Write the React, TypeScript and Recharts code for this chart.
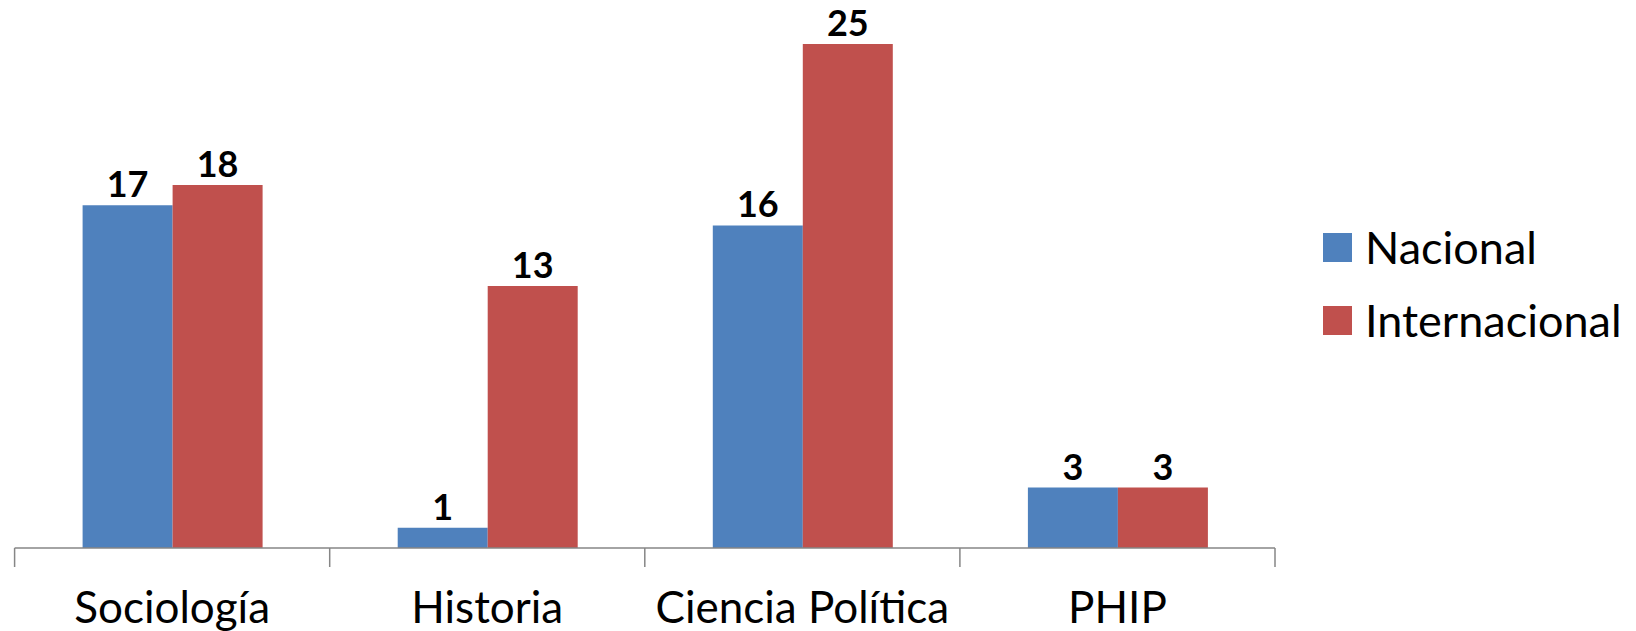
import React from 'react';
import { BarChart, Bar, XAxis, YAxis, LabelList, Legend } from 'recharts';

const categories = ['Sociología', 'Historia', 'Ciencia Política', 'PHIP'];
const nacional = [17, 1, 16, 3];
const internacional = [18, 13, 25, 3];
const seriesNames = ['Nacional', 'Internacional'];

const data = categories.map((c, i) => ({ name: c, nacional: nacional[i], internacional: internacional[i] }));

const W = 1636;
const H = 631;
const ML = 14.6;
const MR = 361;
const MT = 44;
const XH = 83;
const BAND = (W - ML - MR) / categories.length;
const BLUE = '#4F81BD';
const RED = '#C0504D';
const FONT = 'Lato, "Open Sans", sans-serif';

const Tick = (props: any) => {
  const { x, y, payload, index } = props;
  const axisY = H - XH;
  const lines = [x - BAND / 2];
  if (index === categories.length - 1) lines.push(x + BAND / 2);
  return (
    <g>
      {lines.map((lx, i) => (
        <line key={i} x1={lx} x2={lx} y1={axisY} y2={axisY + 19} stroke="#868686" strokeWidth={1.5} />
      ))}
      <text x={x} y={axisY + 75} textAnchor="middle" fontFamily={FONT} fontSize={44} fill="#000">
        {payload.value}
      </text>
    </g>
  );
};

const LegendContent = () => {
  const colors = [BLUE, RED];
  return (
    <div style={{ fontFamily: FONT }}>
      {seriesNames.map((n, i) => (
        <div key={n} style={{ display: 'flex', alignItems: 'center', height: 73 }}>
          <div style={{ width: 29, height: 29, background: colors[i], marginRight: 13 }} />
          <span style={{ fontSize: 45, color: '#000', lineHeight: 1 }}>{n}</span>
        </div>
      ))}
    </div>
  );
};

export default function App() {
  return (
    <div style={{ position: 'absolute', left: 0, top: 0, width: W, height: H, background: '#fff' }}>
      <BarChart width={W} height={H} data={data} margin={{ top: MT, right: MR, bottom: 0, left: ML }} barGap={0}>
        <XAxis
          dataKey="name"
          height={XH}
          tickLine={false}
          axisLine={{ stroke: '#868686', strokeWidth: 1.5 }}
          tick={<Tick />}
          interval={0}
        />
        <YAxis hide domain={[0, 25]} />
        <Legend
          layout="vertical"
          align="center"
          verticalAlign="middle"
          content={<LegendContent />}
          wrapperStyle={{ left: 1323, top: 211, width: 313, height: 146 }}
        />
        <Bar dataKey="nacional" name="Nacional" fill={BLUE} barSize={90} isAnimationActive={false}>
          <LabelList dataKey="nacional" position="top" offset={8} fill="#000" fontFamily={FONT} fontWeight="bold" fontSize={36} />
        </Bar>
        <Bar dataKey="internacional" name="Internacional" fill={RED} barSize={90} isAnimationActive={false}>
          <LabelList dataKey="internacional" position="top" offset={8} fill="#000" fontFamily={FONT} fontWeight="bold" fontSize={36} />
        </Bar>
      </BarChart>
    </div>
  );
}
